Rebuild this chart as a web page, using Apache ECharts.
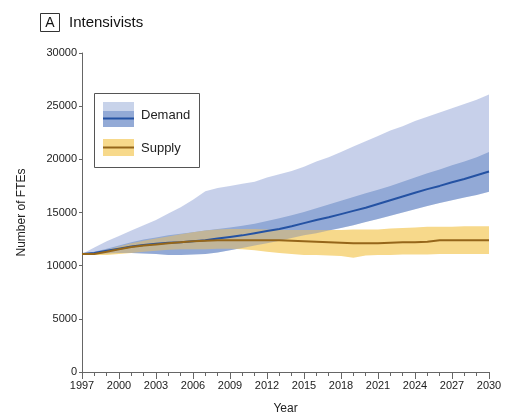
<!DOCTYPE html>
<html>
<head>
<meta charset="utf-8">
<script src="https://cdn.jsdelivr.net/npm/echarts@6/dist/echarts.min.js"></script>
<style>
  html, body { margin: 0; background: #fff; }
  #chart { width: 505px; height: 415px; }
</style>
</head>
<body>
<div id="chart"></div>
<script>
// years on the x axis
const years = ['1997','1998','1999','2000','2001','2002','2003','2004','2005','2006','2007','2008',
  '2009','2010','2011','2012','2013','2014','2015','2016','2017','2018','2019','2020','2021','2022',
  '2023','2024','2025','2026','2027','2028','2029','2030'];

// demand: central line and bands
const demandMid = [11100,11200,11400,11600,11800,11950,12050,12150,12200,12300,12400,12550,
  12700,12850,13050,13250,13450,13700,14000,14300,14550,14850,15150,15450,15800,16150,
  16500,16850,17200,17500,17850,18150,18500,18850];
const demandLow = [11100,11100,11150,11200,11200,11150,11100,11000,11000,11050,11100,11250,
  11450,11650,11900,12100,12350,12600,12850,13050,13300,13550,13800,14100,14400,14700,
  15000,15300,15600,15900,16150,16400,16650,16950];
const demandInnerHigh = [11100,11300,11600,11900,12200,12450,12650,12850,13000,13150,13300,13450,
  13600,13750,13950,14200,14450,14750,15050,15400,15750,16100,16450,16800,17150,17500,
  17900,18300,18700,19050,19450,19800,20200,20700];
const demandOuterHigh = [11100,11700,12300,12800,13300,13800,14300,14900,15500,16200,17000,17300,
  17500,17700,17900,18300,18600,18900,19300,19800,20200,20700,21200,21700,22200,22700,
  23100,23600,24000,24400,24800,25200,25600,26100];

// supply: central line and band
const supplyMid = [11100,11100,11300,11550,11750,11900,12000,12100,12200,12300,12350,12400,
  12400,12400,12400,12400,12400,12350,12300,12250,12200,12150,12100,12100,12100,12150,
  12200,12200,12250,12400,12400,12400,12400,12400];
const supplyLow = [11100,11000,11000,11100,11200,11300,11400,11500,11550,11550,11550,11600,
  11600,11550,11450,11300,11200,11100,11000,11000,10950,10900,10750,10950,11000,11000,
  11050,11050,11050,11100,11100,11100,11100,11100];
const supplyHigh = [11100,11200,11500,11800,12100,12350,12550,12750,12950,13150,13300,13400,
  13450,13450,13450,13400,13350,13350,13350,13350,13350,13350,13400,13400,13400,13500,
  13550,13600,13650,13650,13650,13700,13700,13700];

const yTicks = [0, 5000, 10000, 15000, 20000, 25000, 30000];

const FONT = 'Liberation Sans';
const TXT = '#222';
const AXIS = '#666';
const BLUE = 'rgb(70,100,185)';
const INNER = 'rgb(180,200,226)';
const LINE_BLUE = '#2452a3';
const YELLOW = '#f7d98b';
const BROWN = '#95661a';

const diff = (hi, lo) => hi.map((v, i) => v - lo[i]);

const chart = echarts.init(document.getElementById('chart'));

// invisible base of a stacked band
const base = (stack, data) => ({
  type: 'line', stack: stack, data: data, symbol: 'none', silent: true,
  lineStyle: { opacity: 0 }, z: 2
});
const band = (stack, data, color, opacity) => ({
  type: 'line', stack: stack, data: data, symbol: 'none', silent: true,
  lineStyle: { opacity: 0 }, areaStyle: { color: color, opacity: opacity }, z: 2
});

const option = {
  animation: false,
  backgroundColor: '#fff',
  grid: { left: 82, right: 16, top: 53, bottom: 43, outerBoundsMode: 'none' },
  xAxis: [{
    type: 'category',
    data: years,
    boundaryGap: false,
    name: 'Year',
    nameLocation: 'middle',
    nameGap: 31,
    nameTextStyle: { fontFamily: FONT, fontSize: 12, color: TXT },
    axisLine: { lineStyle: { color: AXIS } },
    axisTick: { interval: 0, length: 4, lineStyle: { color: AXIS } },
    axisLabel: { interval: 2, fontFamily: FONT, fontSize: 11, color: TXT, margin: 8 },
    splitLine: { show: false }
  }, {
    type: 'category',
    data: years,
    boundaryGap: false,
    position: 'bottom',
    axisLine: { show: false },
    axisTick: { interval: 2, length: 7, lineStyle: { color: AXIS } },
    axisLabel: { show: false },
    splitLine: { show: false }
  }],
  yAxis: {
    type: 'value',
    min: yTicks[0],
    max: yTicks[yTicks.length - 1],
    interval: yTicks[1] - yTicks[0],
    name: 'Number of FTEs',
    nameLocation: 'middle',
    nameGap: 54,
    nameTextStyle: { fontFamily: FONT, fontSize: 12, color: TXT },
    axisLine: { show: true, lineStyle: { color: AXIS } },
    axisTick: { show: true, length: 3, lineStyle: { color: AXIS } },
    axisLabel: { fontFamily: FONT, fontSize: 11, color: TXT, margin: 5,
      formatter: v => String(v) },
    splitLine: { show: false }
  },
  series: [
    // inner demand band sits under the supply band
    base('d2', demandLow),
    band('d2', diff(demandInnerHigh, demandLow), INNER, 1),
    base('s', supplyLow),
    band('s', diff(supplyHigh, supplyLow), YELLOW, 1),
    // outer demand band is translucent over everything
    base('d1', demandLow),
    band('d1', diff(demandOuterHigh, demandLow), BLUE, 0.3),
    { type: 'line', data: demandMid, symbol: 'none', z: 3,
      lineStyle: { color: LINE_BLUE, width: 2 } },
    { type: 'line', data: supplyMid, symbol: 'none', z: 3,
      lineStyle: { color: BROWN, width: 2 } }
  ],
  graphic: [
    // panel title
    { type: 'rect', z: 10, shape: { x: 40.5, y: 13.5, width: 19, height: 18 },
      style: { fill: '#fff', stroke: '#333', lineWidth: 1 } },
    { type: 'text', z: 10, x: 50, y: 23,
      style: { text: 'A', fontFamily: FONT, fontSize: 14, fill: '#111', align: 'center', verticalAlign: 'middle' } },
    { type: 'text', z: 10, x: 69, y: 23,
      style: { text: 'Intensivists', fontFamily: FONT, fontSize: 15, fill: '#111', verticalAlign: 'middle' } },
    // legend box
    { type: 'rect', z: 10, shape: { x: 94.5, y: 93.5, width: 105, height: 74 },
      style: { fill: '#fff', stroke: '#555', lineWidth: 1 } },
    { type: 'rect', z: 11, shape: { x: 103, y: 102, width: 31, height: 25 },
      style: { fill: '#c8d3ea' } },
    { type: 'rect', z: 11, shape: { x: 103, y: 111, width: 31, height: 16 },
      style: { fill: '#93aad6' } },
    { type: 'line', z: 12, shape: { x1: 103, y1: 118.5, x2: 134, y2: 118.5 },
      style: { stroke: LINE_BLUE, lineWidth: 2 } },
    { type: 'text', z: 12, x: 141, y: 115,
      style: { text: 'Demand', fontFamily: FONT, fontSize: 13, fill: TXT, verticalAlign: 'middle' } },
    { type: 'rect', z: 11, shape: { x: 103, y: 139, width: 31, height: 17 },
      style: { fill: YELLOW } },
    { type: 'line', z: 12, shape: { x1: 103, y1: 147.5, x2: 134, y2: 147.5 },
      style: { stroke: BROWN, lineWidth: 2 } },
    { type: 'text', z: 12, x: 141, y: 148,
      style: { text: 'Supply', fontFamily: FONT, fontSize: 13, fill: TXT, verticalAlign: 'middle' } }
  ]
};

chart.setOption(option);
</script>
</body>
</html>
